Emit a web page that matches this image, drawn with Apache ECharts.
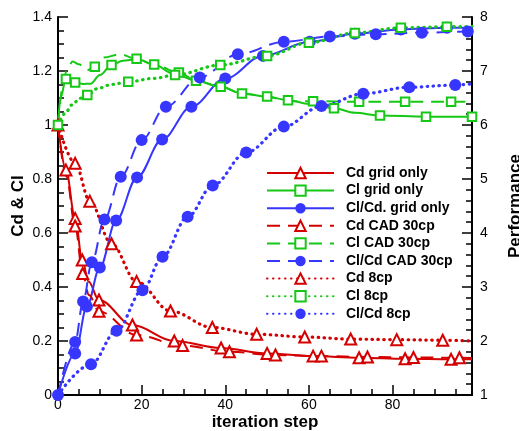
<!DOCTYPE html>
<html>
<head>
<meta charset="utf-8">
<script src="https://cdn.jsdelivr.net/npm/echarts@6/dist/echarts.min.js"></script>
<style>
  html, body { margin: 0; padding: 0; background: #fff; }
  #chart { width: 519px; height: 431px; }
</style>
</head>
<body>
<div id="chart"></div>
<script>
// values: [iteration, value]; "Line" = shape points, "Marks" = points with a symbol
var cdGridMarks = [[0, 1.0], [1.9, 0.833], [4.1, 0.654], [5.8, 0.5], [9.8, 0.352], [17.8, 0.259], [27.8, 0.2], [39, 0.174], [50, 0.154], [61, 0.144], [72, 0.138], [83, 0.134], [94, 0.132]];
var cdGridLine = [[7.3, 0.42], [99, 0.132]];

var clGridMarks = [[0, 1.0], [1.9, 1.17], [4.1, 1.157], [12.8, 1.222], [23, 1.224], [33, 1.164], [44, 1.117], [55, 1.092], [66, 1.062], [77, 1.035], [88, 1.031], [99, 1.031]];
var clGridLine = [[0.6, 1.1], [3, 1.166], [6, 1.152], [7.8, 1.153], [10, 1.185], [15.5, 1.238], [18.8, 1.244], [27.6, 1.19], [38.9, 1.142], [50, 1.105], [60, 1.078], [71, 1.045]];

var perfGridMarks = [[0, 1], [4.1, 1.77], [6.9, 2.64], [10, 3.36], [13.9, 4.23], [18.9, 5.03], [24.9, 5.73], [31.9, 6.34], [40, 6.86], [49, 7.28], [60.2, 7.54], [71, 7.69], [82, 7.77], [93, 7.8]];
var perfGridLine = [[99, 7.8]];

var cdCadMarks = [[4.1, 0.626], [5.9, 0.45], [9.8, 0.31], [18.8, 0.222], [29.8, 0.183], [41, 0.16], [52, 0.148], [63, 0.144], [74, 0.141], [85, 0.139], [96, 0.138]];
var cdCadLine = [[0, 1.0], [2, 0.81], [7.4, 0.37], [99, 0.137]];

var clCadMarks = [[8.8, 1.216], [18.8, 1.245], [28.9, 1.194], [38.9, 1.142], [50, 1.106], [61, 1.088], [72, 1.086], [83, 1.086], [94, 1.086]];
var clCadLine = [[0, 1.0], [1, 1.13], [2, 1.2], [3.5, 1.235], [5, 1.225], [7, 1.203], [11, 1.25], [14.8, 1.262], [23, 1.224], [33, 1.164], [44, 1.117], [55, 1.088], [99, 1.086]];

var perfCadMarks = [[4.1, 1.98], [6.0, 2.73], [8.1, 3.46], [11.1, 4.25], [15, 5.04], [20, 5.72], [25.8, 6.34], [33.9, 6.88], [43, 7.31], [54, 7.54], [65, 7.64], [76, 7.68], [87, 7.71], [98, 7.73]];
var perfCadLine = [[0, 1], [99, 7.73]];

var cd8Marks = [[4.1, 0.858], [7.6, 0.718], [12.8, 0.56], [18.8, 0.42], [26.9, 0.311], [36.9, 0.25], [47.5, 0.225], [59, 0.215], [70, 0.207], [81, 0.205], [92, 0.203]];
var cd8Line = [[0, 1.0], [99, 0.2]];

var cl8Marks = [[7, 1.111], [16.8, 1.16], [28, 1.185], [38.8, 1.222], [50, 1.256], [60, 1.305], [71, 1.341], [82, 1.36], [93, 1.364]];
var cl8Line = [[0, 1.0], [1.7, 1.043], [3.3, 1.074], [5.3, 1.099], [9.6, 1.136], [12.8, 1.15], [23, 1.173], [99, 1.365]];

var perf8Marks = [[7.9, 1.57], [14, 2.19], [20.2, 2.94], [25, 3.56], [31, 4.3], [37, 4.88], [45, 5.49], [54, 5.97], [63, 6.35], [73, 6.58], [84, 6.7], [95, 6.74]];
var perf8Line = [[0, 1], [99, 6.76]];

var xTicksMajor = 20, xTicksMinor = 5;

var RED = '#d40000', GREEN = '#16c816', BLUE = '#3636ff';
var FONT = "'Liberation Sans', Arial, sans-serif";

function merge(line, marks) {
  var pts = line.map(function (p) { return { value: p, symbol: 'none' }; })
    .concat(marks.map(function (p) { return { value: p }; }));
  pts.sort(function (a, b) { return a.value[0] - b.value[0]; });
  return pts;
}

function mk(name, color, style, symbol, size, axis, line, marks) {
  var ls = { color: color, width: 2, type: 'solid' };
  if (style === 'dash') ls.type = [13, 8];
  if (style === 'dot') { ls.type = [0.5, 5.5]; ls.width = 3.2; ls.cap = 'round'; }
  return {
    name: name, type: 'line', yAxisIndex: axis, data: merge(line, marks),
    smooth: 0.35, smoothMonotone: 'x', symbol: symbol, symbolSize: size,
    showAllSymbol: true, clip: false, lineStyle: ls,
    itemStyle: { color: color, borderWidth: symbol === 'circle' ? 0 : 1.8 },
    emphasis: { disabled: true }, z: 2
  };
}

var series = [
  mk('Cd grid only', RED, 'solid', 'emptyTriangle', 11, 0, cdGridLine, cdGridMarks),
  mk('Cl grid only', GREEN, 'solid', 'emptyRect', 8.5, 0, clGridLine, clGridMarks),
  mk('Cl/Cd. grid only', BLUE, 'solid', 'circle', 12, 1, perfGridLine, perfGridMarks),
  mk('Cd CAD 30cp', RED, 'dash', 'emptyTriangle', 11, 0, cdCadLine, cdCadMarks),
  mk('Cl CAD 30cp', GREEN, 'dash', 'emptyRect', 8.5, 0, clCadLine, clCadMarks),
  mk('Cl/Cd CAD 30cp', BLUE, 'dash', 'circle', 12, 1, perfCadLine, perfCadMarks),
  mk('Cd 8cp', RED, 'dot', 'emptyTriangle', 11, 0, cd8Line, cd8Marks),
  mk('Cl 8cp', GREEN, 'dot', 'emptyRect', 8.5, 0, cl8Line, cl8Marks),
  mk('Cl/Cd 8cp', BLUE, 'dot', 'circle', 12, 1, perf8Line, perf8Marks)
];

function line() { return { show: true, onZero: false, lineStyle: { color: '#000', width: 2 } }; }
function tick(len) { return { show: true, inside: true, length: len, lineStyle: { color: '#000', width: 1.5 } }; }
var nameStyle = { fontSize: 17, fontWeight: 'bold', color: '#000', fontFamily: FONT };
function label(margin) { return { show: true, margin: margin, fontSize: 14, color: '#000', fontFamily: FONT }; }

var chart = echarts.init(document.getElementById('chart'));
chart.setOption({
  animation: false,
  backgroundColor: '#fff',
  textStyle: { fontFamily: FONT },
  grid: { left: 58, right: 47, top: 17, bottom: 36, containLabel: false, outerBoundsMode: 'none' },
  legend: {
    orient: 'vertical', left: 261, top: 161, itemWidth: 67, itemHeight: 13, itemGap: 3.6,
    selectedMode: false,
    textStyle: { fontSize: 14, fontWeight: 'bold', color: '#000', fontFamily: FONT, padding: [0, 0, 0, 7] },
    data: series.map(function (s) { return s.name; })
  },
  xAxis: [
    {
      type: 'value', position: 'bottom', min: 0, max: 99, interval: xTicksMajor,
      name: 'iteration step', nameLocation: 'middle', nameGap: 19, nameMoveOverlap: false, nameTextStyle: nameStyle,
      axisLine: line(), axisTick: tick(10),
      axisLabel: Object.assign(label(3), { showMaxLabel: false }),
      splitLine: { show: false }
    },
    {
      type: 'value', position: 'bottom', min: 0, max: 99, interval: xTicksMinor,
      axisLine: { show: false, onZero: false }, axisTick: tick(6),
      axisLabel: { show: false }, splitLine: { show: false }
    }
  ],
  yAxis: [
    {
      type: 'value', position: 'left', min: 0, max: 1.4, interval: 0.2,
      name: 'Cd & Cl', nameLocation: 'middle', nameRotate: 90, nameGap: 31, nameMoveOverlap: false, nameTextStyle: nameStyle,
      axisLine: line(), axisTick: tick(10),
      minorTick: { show: true, splitNumber: 4, length: 6, lineStyle: { color: '#000', width: 1.5 } },
      axisLabel: label(6), splitLine: { show: false }
    },
    {
      type: 'value', position: 'right', min: 1, max: 8, interval: 1,
      name: 'Performance', nameLocation: 'middle', nameRotate: 90, nameGap: 35, nameMoveOverlap: false, nameTextStyle: nameStyle,
      axisLine: line(), axisTick: tick(10),
      minorTick: { show: true, splitNumber: 5, length: 6, lineStyle: { color: '#000', width: 1.5 } },
      axisLabel: label(8), splitLine: { show: false }
    }
  ],
  series: series
});
</script>
</body>
</html>
